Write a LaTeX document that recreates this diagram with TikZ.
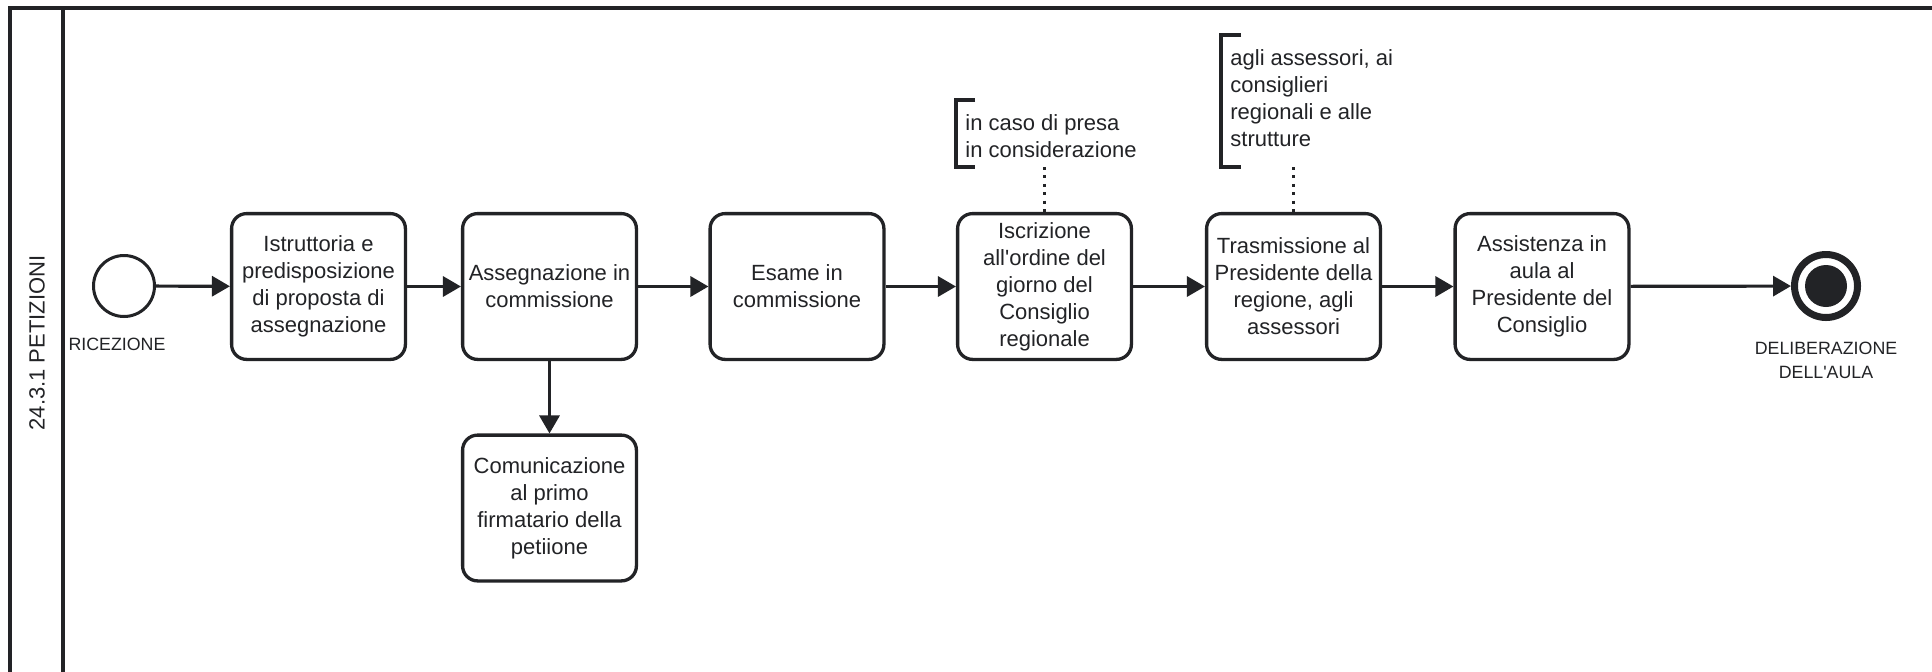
\documentclass[tikz,border=0pt]{standalone}
\usepackage{fontspec}
\setmainfont{Liberation Sans}
\usetikzlibrary{arrows.meta}
\definecolor{ink}{RGB}{34,35,38}
\begin{document}
\begin{tikzpicture}[x=0.5pt,y=-0.5pt,
  poolline/.style={draw=ink, line width=1.75pt},
  task/.style={draw=ink, line width=1.65pt, rounded corners=7.5pt,
    minimum width=86.9pt, minimum height=72.9pt, inner sep=0pt,
    align=center, text=ink, font=\fontsize{11}{13.5}\selectfont},
  startev/.style={circle, draw=ink, line width=1.5pt, minimum size=30.5pt, inner sep=0pt},
  endev/.style={circle, draw=ink, line width=3.5pt, minimum size=31.5pt, inner sep=0pt},
  endcore/.style={circle, fill=ink, minimum size=21pt, inner sep=0pt},
  evlabel/.style={align=center, text=ink, inner sep=0pt, font=\fontsize{8.9}{12}\selectfont},
  flow/.style={draw=ink, line width=1.6pt, -{Triangle[length=9pt,width=10pt]}},
  assoc/.style={draw=ink, line width=1.5pt, dash pattern=on 1.5pt off 2.7pt},
  bracket/.style={draw=ink, line width=1.6pt},
  notetext/.style={align=left, anchor=west, text=ink, inner sep=0pt,
    font=\fontsize{11}{13.5}\selectfont},
]
\useasboundingbox (0,0) rectangle (1932,671);
\clip (0,0) rectangle (1932,671);
\fill[white] (0,0) rectangle (1932,671);

% pool and lane
\draw[poolline] (1960,8) -- (10,8) -- (10,700);
\draw[poolline] (63,8) -- (63,700);
\node[rotate=90, text=ink, inner sep=0pt, font=\fontsize{11}{13.5}\selectfont] (lane) at (37,343) {24.3.1 PETIZIONI};

% events
\node[startev] (start) at (124,286) {};
\node[evlabel] (startlbl) at (117,344) {RICEZIONE};
\node[endev] (end) at (1826,286) {};
\node[endcore] (endc) at (1826,286) {};
\node[evlabel] (endlbl) at (1826,360) {DELIBERAZIONE\\DELL\textquotesingle AULA};

% tasks
\node[task] (t1) at (318.5,286.5) {Istruttoria e\\predisposizione\\di proposta di\\assegnazione};
\node[task] (t2) at (549.5,286.5) {Assegnazione in\\commissione};
\node[task] (t3) at (797,286.5) {Esame in\\commissione};
\node[task] (t4) at (1044.5,286.5) {Iscrizione\\all\textquotesingle ordine del\\giorno del\\Consiglio\\regionale};
\node[task] (t5) at (1293.5,286.5) {Trasmissione al\\Presidente della\\regione, agli\\assessori};
\node[task] (t6) at (1542,286.5) {Assistenza in\\aula al\\Presidente del\\Consiglio};
\node[task] (t7) at (549.5,508) {Comunicazione\\al primo\\firmatario della\\petiione};

% sequence flows
\draw[flow] (start) -- (t1);
\draw[flow] (t1) -- (t2);
\draw[flow] (t2) -- (t3);
\draw[flow] (t3) -- (t4);
\draw[flow] (t4) -- (t5);
\draw[flow] (t5) -- (t6);
\draw[flow] (t6) -- (end);
\draw[flow] (t2) -- (t7);

% text annotations
\draw[bracket] (975,100) -- (956,100) -- (956,167) -- (975,167);
\node[notetext] (n1) at (965,136.5) {in caso di presa\\in considerazione};
\coordinate (n1b) at (1044.5,167);
\draw[assoc] (n1b) -- (t4.north);

\draw[bracket] (1241,35) -- (1221,35) -- (1221,167) -- (1241,167);
\node[notetext] (n2) at (1230,98) {agli assessori, ai\\consiglieri\\regionali e alle\\strutture};
\coordinate (n2b) at (1293.5,167);
\draw[assoc] (n2b) -- (t5.north);
\end{tikzpicture}
\end{document}
